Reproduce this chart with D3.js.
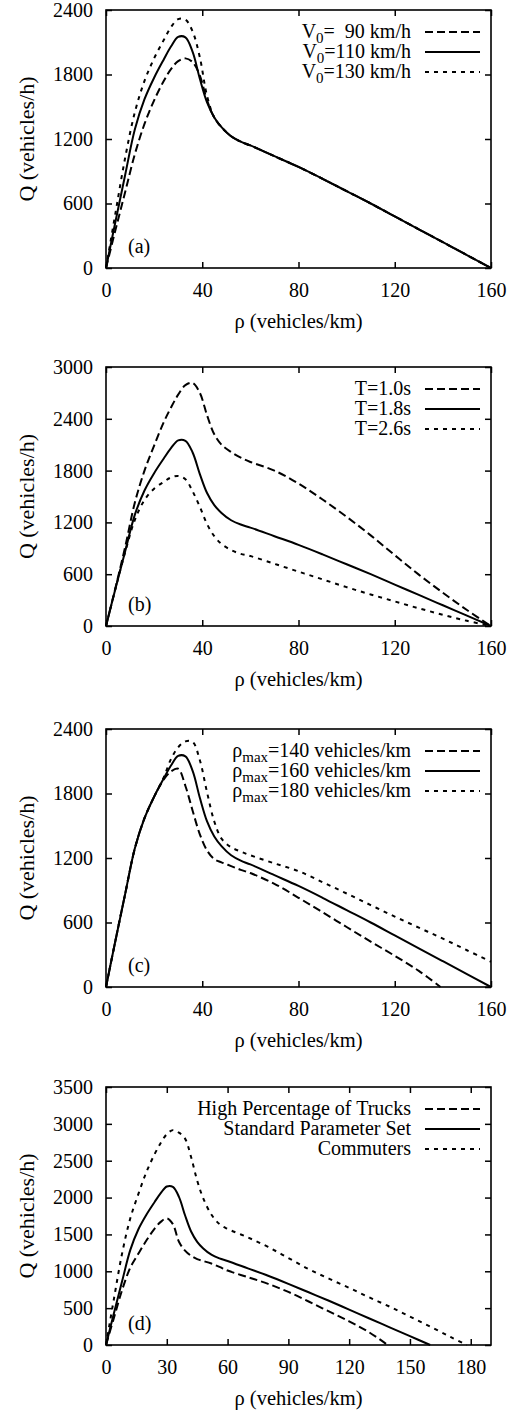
<!DOCTYPE html>
<html><head><meta charset="utf-8">
<script src="https://cdn.jsdelivr.net/npm/d3@7"></script>
<style>
body{margin:0;background:#fff}
svg text{font-family:"Liberation Serif","Times New Roman",serif;fill:#000;white-space:pre}
</style>
</head><body>
<svg id="chart" width="514" height="1410"></svg>
<script>
// ---------- data ----------
const rhoGrid = [0,4,8,12,16,20,24,27,30,33,36,39,42,45,48,52,56,60,70,80,90,100,110,120,130,140,150,160];
const qStandard = [0,440,870,1290,1570,1770,1940,2060,2150,2145,2010,1760,1540,1400,1310,1225,1175,1140,1040,940,830,715,600,480,360,240,120,0];

// panel (a): desired velocity
const qV90  = [0,360,710,1060,1340,1560,1740,1850,1925,1950,1915,1790,1560,1400,1310,1225,1175,1140,1040,940,830,715,600,480,360,240,120,0];
const qV130 = [0,520,1030,1450,1740,1950,2120,2240,2315,2310,2200,1960,1600,1400,1310,1225,1175,1140,1040,940,830,715,600,480,360,240,120,0];

// panel (b): time gap
const qT10 = [0,450,920,1430,1800,2090,2360,2530,2680,2790,2815,2700,2440,2220,2100,2015,1950,1900,1800,1650,1465,1265,1050,820,595,385,185,0];
const qT26 = [0,440,860,1230,1460,1590,1670,1720,1737,1700,1560,1380,1180,1040,950,880,835,810,720,630,540,450,365,285,205,130,60,0];

// panel (c): maximum density
const rhoP140 = [0,4,8,12,16,20,24,27,30,33,36,39,42,45,48,52,56,60,70,80,90,100,110,120,130,139];
const qP140 = [0,440,870,1290,1570,1770,1930,2005,2030,1870,1640,1420,1270,1190,1160,1125,1090,1060,960,830,695,558,422,290,150,0];
const qP180 = [0,440,870,1290,1570,1770,1950,2120,2230,2285,2280,2110,1810,1540,1380,1300,1260,1225,1150,1078,975,870,762,655,552,450,342,235];

// panel (d): parameter sets
const rhoTrucks = [0,4,8,12,16,20,24,27,30,33,36,39,42,45,48,52,56,60,70,80,90,100,110,120,130,139];
const qTrucks = [0,376,750,1050,1240,1420,1580,1670,1718,1640,1400,1280,1210,1165,1140,1105,1060,1010,920,830,720,590,455,320,170,0];
const rhoCommuters = [0,4,8,12,16,20,24,27,30,33,36,39,42,45,48,52,56,60,70,80,90,100,110,120,130,140,150,160,170,178];
const qCommuters = [0,640,1250,1720,2050,2350,2590,2740,2860,2915,2880,2800,2550,2230,1990,1770,1640,1575,1460,1330,1180,1030,900,775,645,520,385,250,110,0];

// ticks
const xTicks160 = [0,40,80,120,160];
const xTicks190 = [0,30,60,90,120,150,180];
const yTicks2400 = [0,600,1200,1800,2400];
const yTicks3000 = [0,600,1200,1800,2400,3000];
const yTicks3500 = [0,500,1000,1500,2000,2500,3000,3500];

// legend labels: [main, subscript, rest]
const legendA = [["V","0","=  90 km/h"],["V","0","=110 km/h"],["V","0","=130 km/h"]];
const legendB = [["T=1.0s","",""],["T=1.8s","",""],["T=2.6s","",""]];
const legendC = [["\u03C1","max","=140 vehicles/km"],["\u03C1","max","=160 vehicles/km"],["\u03C1","max","=180 vehicles/km"]];
const legendD = [["High Percentage of Trucks","",""],["Standard Parameter Set","",""],["Commuters","",""]];

const xLabel = "\u03C1 (vehicles/km)";
const yLabel = "Q (vehicles/h)";

// ---------- layout ----------
const L = 106, R = 491;
const DASH = "8,4", DOT = "4,5";
const panels = [
  {top:10, bottom:268, xMax:160, yMax:2400, xt:xTicks160, yt:yTicks2400, tag:"(a)", legend:legendA,
   series:[{x:rhoGrid,y:qV90,d:DASH},{x:rhoGrid,y:qStandard,d:null},{x:rhoGrid,y:qV130,d:DOT}]},
  {top:367, bottom:626, xMax:160, yMax:3000, xt:xTicks160, yt:yTicks3000, tag:"(b)", legend:legendB,
   series:[{x:rhoGrid,y:qT10,d:DASH},{x:rhoGrid,y:qStandard,d:null},{x:rhoGrid,y:qT26,d:DOT}]},
  {top:729, bottom:987, xMax:160, yMax:2400, xt:xTicks160, yt:yTicks2400, tag:"(c)", legend:legendC,
   series:[{x:rhoP140,y:qP140,d:DASH},{x:rhoGrid,y:qStandard,d:null},{x:rhoGrid,y:qP180,d:DOT}]},
  {top:1087, bottom:1345, xMax:190, yMax:3500, xt:xTicks190, yt:yTicks3500, tag:"(d)", legend:legendD,
   series:[{x:rhoTrucks,y:qTrucks,d:DASH},{x:rhoGrid,y:qStandard,d:null},{x:rhoCommuters,y:qCommuters,d:DOT}]}
];

const svg = d3.select("#chart");

panels.forEach(p => {
  const x = d3.scaleLinear().domain([0,p.xMax]).range([L,R]);
  const y = d3.scaleLinear().domain([0,p.yMax]).range([p.bottom,p.top]);
  const g = svg.append("g");

  // curves
  const line = d3.line().x(d=>x(d[0])).y(d=>y(d[1])).curve(d3.curveCatmullRom.alpha(0.5));
  p.series.forEach(s => {
    const pts = s.x.map((v,i)=>[v,s.y[i]]);
    g.append("path").attr("d",line(pts)).attr("fill","none").attr("stroke","#000")
      .attr("stroke-width",2).attr("stroke-dasharray",s.d);
  });

  // axes (ticks inward on all four sides)
  const tl = 6;
  g.append("g").attr("transform",`translate(0,${p.bottom})`)
    .call(d3.axisBottom(x).tickValues(p.xt).tickSizeInner(-tl).tickSizeOuter(0).tickPadding(15))
    .call(a=>{a.select(".domain").remove(); a.selectAll("line").attr("stroke-width",1.5);
      a.selectAll("text").attr("font-size",20).attr("font-family","Liberation Serif").attr("fill","#000");});
  g.append("g").attr("transform",`translate(0,${p.top})`)
    .call(d3.axisTop(x).tickValues(p.xt).tickSizeInner(-tl).tickSizeOuter(0).tickFormat(""))
    .call(a=>{a.select(".domain").remove(); a.selectAll("line").attr("stroke-width",1.5);});
  g.append("g").attr("transform",`translate(${L},0)`)
    .call(d3.axisLeft(y).tickValues(p.yt).tickSizeInner(-tl).tickSizeOuter(0).tickPadding(13).tickFormat(d3.format("d")))
    .call(a=>{a.select(".domain").remove(); a.selectAll("line").attr("stroke-width",1.5);
      a.selectAll("text").attr("font-size",20).attr("font-family","Liberation Serif").attr("fill","#000");});
  g.append("g").attr("transform",`translate(${R},0)`)
    .call(d3.axisRight(y).tickValues(p.yt).tickSizeInner(-tl).tickSizeOuter(0).tickFormat(""))
    .call(a=>{a.select(".domain").remove(); a.selectAll("line").attr("stroke-width",1.5);});

  // frame
  g.append("rect").attr("x",L).attr("y",p.top).attr("width",R-L).attr("height",p.bottom-p.top)
    .attr("fill","none").attr("stroke","#000").attr("stroke-width",1.6);

  // axis labels
  g.append("text").attr("x",(L+R)/2).attr("y",p.bottom+60).attr("text-anchor","middle")
    .attr("font-size",20.5).text(xLabel);
  g.append("text").attr("transform",`translate(34,${(p.top+p.bottom)/2}) rotate(-90)`)
    .attr("text-anchor","middle").attr("font-size",22).text(yLabel);

  // panel tag
  g.append("text").attr("x",128).attr("y",p.bottom-15).attr("font-size",20).text(p.tag);

  // legend
  p.legend.forEach((lab,i) => {
    const cy = p.top + 22 + i*20;
    const t = g.append("text").attr("x",411).attr("y",cy+6).attr("text-anchor","end")
      .attr("font-size",20).attr("xml:space","preserve");
    t.append("tspan").text(lab[0]);
    if (lab[1]) {
      t.append("tspan").attr("dy",5).attr("font-size",15).text(lab[1]);
      t.append("tspan").attr("dy",-5).text(lab[2]);
    }
    g.append("line").attr("x1",425).attr("x2",480).attr("y1",cy).attr("y2",cy)
      .attr("stroke","#000").attr("stroke-width",2).attr("stroke-dasharray",p.series[i].d);
  });
});
</script>
</body></html>
